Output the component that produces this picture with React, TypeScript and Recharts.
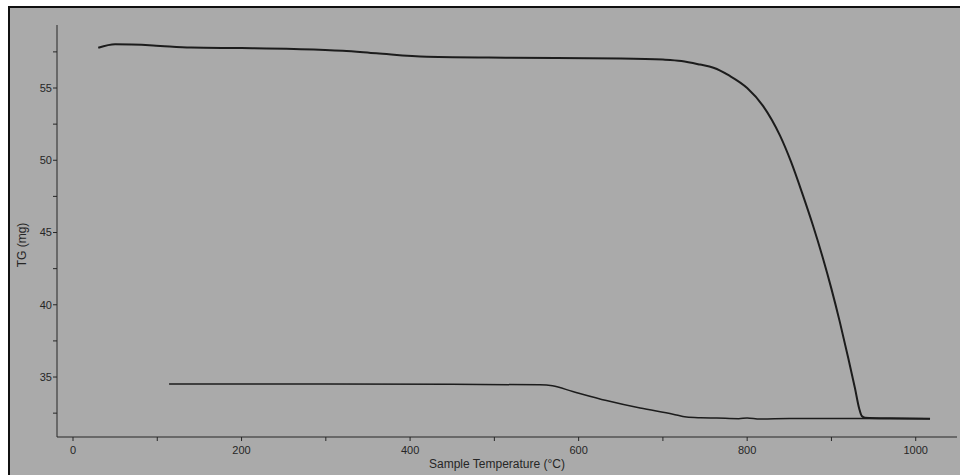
import { Label, Line, LineChart, XAxis, YAxis } from "recharts";

// sample temperature (°C) and mass (mg)
const tempA = [30, 50, 95, 140, 200, 262, 320, 360, 420, 520, 650, 700, 722, 744, 760, 779, 800, 819, 839, 852, 866, 878, 890, 900, 910, 920, 928, 933, 936, 940, 970, 1017];
const massA = [57.78, 58.02, 57.95, 57.8, 57.76, 57.7, 57.58, 57.4, 57.16, 57.1, 57.05, 56.97, 56.87, 56.62, 56.4, 55.85, 55.0, 53.75, 51.7, 49.9, 47.6, 45.5, 43.2, 41.1, 38.8, 36.3, 34.2, 32.8, 32.3, 32.18, 32.14, 32.12];

const tempB = [114, 300, 450, 554, 569, 593, 633, 673, 712, 728, 745, 764, 790, 800, 815, 850, 1017];
const massB = [34.52, 34.52, 34.5, 34.46, 34.39, 34.0, 33.37, 32.85, 32.43, 32.23, 32.18, 32.16, 32.12, 32.17, 32.1, 32.13, 32.12];

const xTicks = [0, 100, 200, 300, 400, 500, 600, 700, 800, 900, 1000];
const yTicks = [32.5, 35, 37.5, 40, 42.5, 45, 47.5, 50, 52.5, 55, 57.5];

const runA = tempA.map((t, i) => ({ t, tg: massA[i] }));
const runB = tempB.map((t, i) => ({ t, tg: massB[i] }));

const ink = "#262626";
const font = "'Liberation Sans', Arial, sans-serif";

const XTick = (props: any) => {
  const { x, y, payload } = props;
  if (payload.value % 200 !== 0) return null;
  return (
    <text x={x} y={y} dy="0.71em" textAnchor="middle" fontSize={11} fill={ink} fontFamily={font}>
      {payload.value}
    </text>
  );
};

const YTick = (props: any) => {
  const { x, y, payload } = props;
  if (payload.value % 5 !== 0) return null;
  return (
    <text x={x} y={y} dy="0.35em" textAnchor="end" fontSize={11} fill={ink} fontFamily={font}>
      {payload.value}
    </text>
  );
};

export default function App() {
  return (
    <div style={{ position: "absolute", left: 0, top: 0, width: 960, height: 475, background: "#fff", overflow: "hidden" }}>
      <div
        style={{
          position: "absolute",
          left: 8,
          top: 6,
          right: 0,
          bottom: 0,
          background: "#aaaaaa",
          borderLeft: "2px solid #111",
          borderTop: "2px solid #111",
        }}
      />
      <div style={{ position: "absolute", left: 0, top: 0 }}>
        <LineChart width={960} height={475} margin={{ top: 25, right: 3, bottom: 8, left: 0 }}>
          <XAxis
            dataKey="t"
            type="number"
            domain={[-19, 1049]}
            allowDataOverflow
            ticks={xTicks}
            interval={0}
            height={30}
            tickSize={4}
            tickMargin={5}
            stroke={ink}
            tick={<XTick />}
          >
            <Label
              content={() => (
                <text x={497} y={468} textAnchor="middle" fontSize={12} fill={ink} fontFamily={font}>
                  Sample Temperature (°C)
                </text>
              )}
            />
          </XAxis>
          <YAxis
            type="number"
            domain={[30.85, 59.36]}
            allowDataOverflow
            ticks={yTicks}
            interval={0}
            width={57}
            tickSize={4}
            tickMargin={1}
            stroke={ink}
            tick={<YTick />}
          >
            <Label
              content={() => (
                <text x={26} y={245} transform="rotate(-90 26 245)" textAnchor="middle" fontSize={12} fill={ink} fontFamily={font}>
                  TG (mg)
                </text>
              )}
            />
          </YAxis>
          <Line data={runA} dataKey="tg" type="monotone" stroke="#1c1c1c" strokeWidth={2} dot={false} isAnimationActive={false} />
          <Line data={runB} dataKey="tg" type="monotone" stroke="#1c1c1c" strokeWidth={1.5} dot={false} isAnimationActive={false} />
        </LineChart>
      </div>
    </div>
  );
}
